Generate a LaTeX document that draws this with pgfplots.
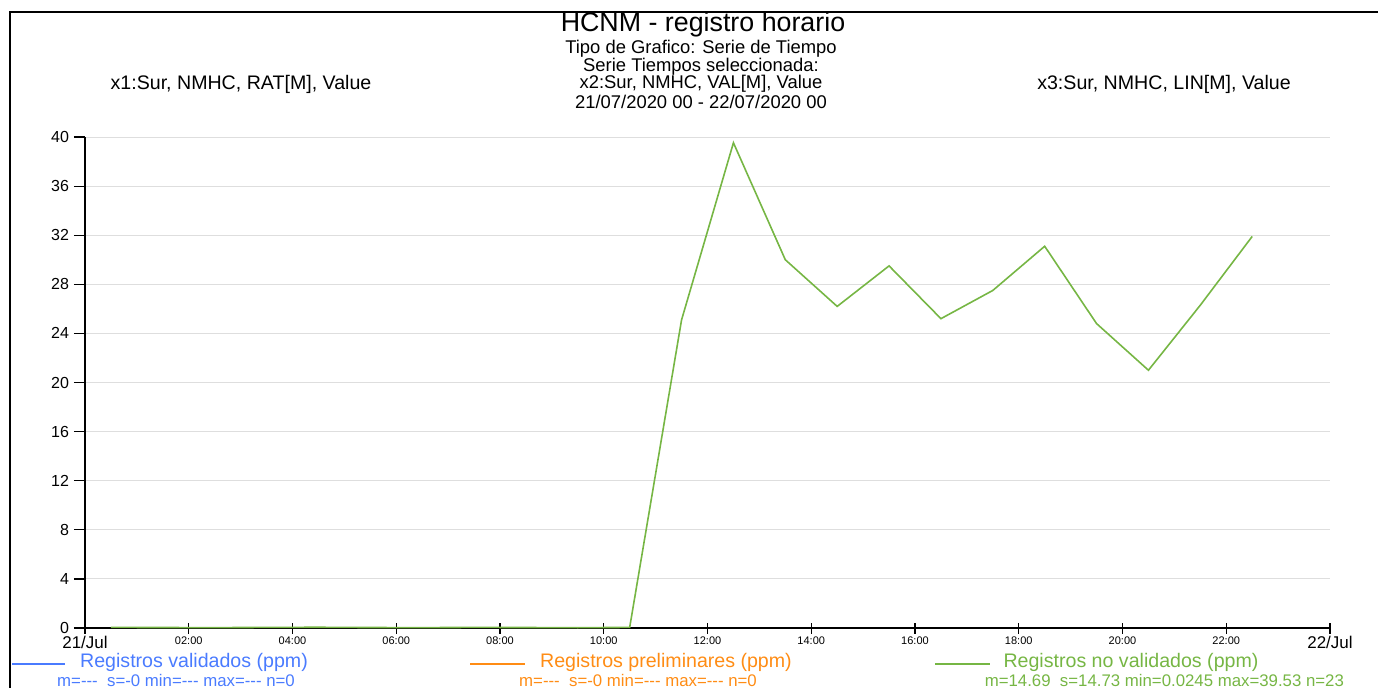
\documentclass[border=0pt]{standalone}
\usepackage{fontspec}
\setmainfont{Liberation Sans}
\usepackage{pgfplots}
\pgfplotsset{compat=1.18}
\definecolor{cblue}{RGB}{74,123,255}
\definecolor{corange}{RGB}{255,140,20}
\definecolor{cgreen}{RGB}{118,182,68}
\definecolor{cgrid}{RGB}{222,222,222}
\newcommand{\ddd}{{-}{-}{-}}
\begin{document}
\begin{tikzpicture}
\useasboundingbox (-42.5pt,-29.5pt) rectangle (646.5pt,314pt);
\draw[black,line width=0.8pt] (-37.5pt,-40pt) -- (-37.5pt,308pt) -- (660pt,308pt);
\begin{axis}[
  at={(0,0)}, anchor=south west,
  scale only axis, width=622.5pt, height=245.5pt,
  xmin=0, xmax=24, ymin=0, ymax=40,
  axis x line*=bottom, axis y line*=left,
  axis line style={black, line width=0.8pt, -},
  xtick={0,2,...,24},
  xticklabels={{\fontsize{8.5}{9}\selectfont 21/Jul},02:00,04:00,06:00,08:00,10:00,12:00,14:00,16:00,18:00,20:00,22:00,{\fontsize{8.5}{9}\selectfont 22/Jul}},
  ytick={0,4,...,40},
  x tick label style={font=\fontsize{5.5}{6}\selectfont, yshift=2pt},
  y tick label style={font=\fontsize{8}{9}\selectfont, xshift=1pt},
  xtick style={black, line width=0.6pt},
  ytick style={black, line width=0.6pt},
  major tick length=5.5pt,
  xtick align=center,
  ytick align=outside,
  ymajorgrids, major grid style={cgrid, line width=0.5pt},
  /pgf/number format/assume math mode=true,
  clip=false,
]
\addplot[cgreen, line width=0.8pt] coordinates {
(0.5,0.05) (1.5,0.04) (2.5,0.03) (3.5,0.05) (4.5,0.06) (5.5,0.04)
(6.5,0.03) (7.5,0.05) (8.5,0.04) (9.5,0.0245) (10.5,0.05)
(11.5,25.1) (12.5,39.53) (13.5,30.0) (14.5,26.2) (15.5,29.5)
(16.5,25.2) (17.5,27.5) (18.5,31.1) (19.5,24.8) (20.5,21.0)
(21.5,26.3) (22.5,31.9)
};
\end{axis}
% titles
\node[font=\fontsize{13.4}{14}\selectfont] at (309pt,301.5pt) {HCNM - registro horario};
\node[font=\fontsize{9.2}{10}\selectfont] at (308pt,289.5pt) {Tipo de Grafico: Serie de Tiempo};
\node[font=\fontsize{9.2}{10}\selectfont] at (308pt,280.8pt) {Serie Tiempos seleccionada:};
\node[font=\fontsize{9.2}{10}\selectfont] at (308pt,272pt) {x2:Sur, NMHC, VAL[M], Value};
\node[font=\fontsize{9.2}{10}\selectfont] at (308pt,263pt) {21/07/2020 00 - 22/07/2020 00};
\node[font=\fontsize{9.8}{10}\selectfont] at (78pt,272pt) {x1:Sur, NMHC, RAT[M], Value};
\node[font=\fontsize{9.8}{10}\selectfont] at (539.5pt,272pt) {x3:Sur, NMHC, LIN[M], Value};
% legend
\draw[cblue, line width=0.7pt] (-36.5pt,-18pt) -- (-10pt,-18pt);
\node[cblue, font=\fontsize{9.8}{10}\selectfont] at (54.5pt,-17pt) {Registros validados (ppm)};
\node[cblue, font=\fontsize{8.4}{9}\selectfont] at (45.5pt,-26pt) {m=\ddd\ \ s=-0 min=\ddd\ max=\ddd\ n=0};
\draw[corange, line width=0.7pt] (192.5pt,-18pt) -- (220pt,-18pt);
\node[corange, font=\fontsize{9.8}{10}\selectfont] at (290.5pt,-17pt) {Registros preliminares (ppm)};
\node[corange, font=\fontsize{8.4}{9}\selectfont] at (276.5pt,-26pt) {m=\ddd\ \ s=-0 min=\ddd\ max=\ddd\ n=0};
\draw[cgreen, line width=0.7pt] (425pt,-18pt) -- (452.5pt,-18pt);
\node[cgreen, font=\fontsize{9.8}{10}\selectfont] at (523pt,-17pt) {Registros no validados (ppm)};
\node[cgreen, font=\fontsize{8.4}{9}\selectfont, anchor=east] at (633pt,-26pt) {m=14.69 \ s=14.73 min=0.0245 max=39.53 n=23};
\end{tikzpicture}
\end{document}
